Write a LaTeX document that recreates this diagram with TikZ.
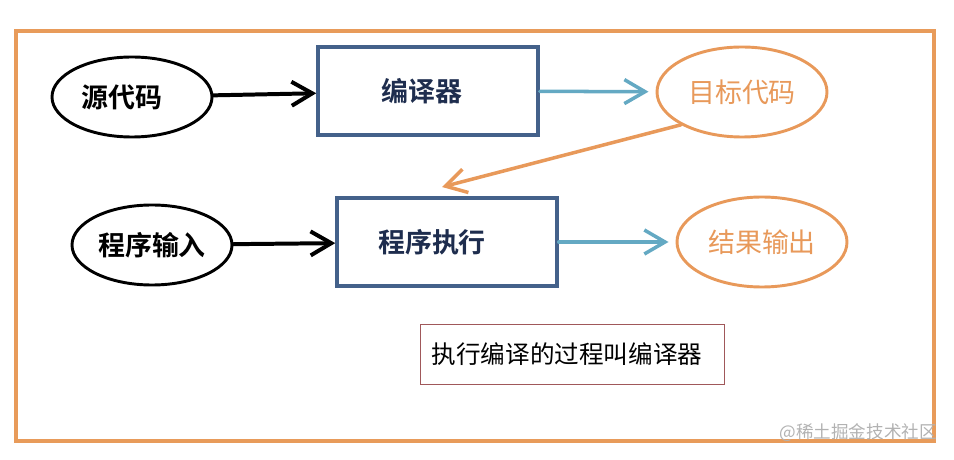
\documentclass[tikz,border=0pt]{standalone}
\usepackage{fontspec}
\setmainfont{Noto Sans CJK SC}[BoldFont={Noto Sans CJK SC Bold}]
\usepackage{tikz}
\usetikzlibrary{arrows.meta,shapes.geometric}
\definecolor{frameorg}{HTML}{E89B5A}
\definecolor{ovalorg}{HTML}{E8995A}
\definecolor{boxblue}{HTML}{44618A}
\definecolor{navy}{HTML}{1E2D4E}
\definecolor{flowblue}{HTML}{64A9C3}
\definecolor{noterd}{HTML}{A0585A}
\tikzset{
  srcoval/.style={ellipse,draw=black,line width=2.5pt,fill=white,text=black,
    font=\bfseries\fontsize{23}{27}\selectfont,
    minimum width=4.8cm,minimum height=2.4cm,inner sep=0pt},
  outoval/.style={ellipse,draw=ovalorg,line width=2.5pt,fill=white,text=ovalorg,
    font=\fontsize{23}{27}\selectfont,
    minimum width=5.1cm,minimum height=2.7cm,inner sep=0pt},
  procbox/.style={rectangle,draw=boxblue,line width=3pt,fill=white,text=navy,
    font=\bfseries\fontsize{23}{27}\selectfont,
    minimum width=6.6cm,minimum height=2.64cm,inner sep=0pt},
  notebox/.style={rectangle,draw=noterd,line width=0.7pt,text=black,
    font=\fontsize{21}{25}\selectfont,
    minimum width=9.12cm,minimum height=1.8cm,inner sep=0pt},
  blkarr/.style={-{Straight Barb[length=0.62cm,width=0.72cm]},line width=3.4pt,
    line cap=round,color=black},
  bluarr/.style={-{Straight Barb[length=0.62cm,width=0.72cm]},line width=3pt,
    line cap=round,color=flowblue},
  orgarr/.style={-{Straight Barb[length=0.62cm,width=0.72cm]},line width=3pt,
    line cap=round,color=ovalorg},
}
\begin{document}
\begin{tikzpicture}[x=0.03cm, y=-0.03cm]
  \useasboundingbox (0,0) rectangle (954,460);
  \draw[frameorg, line width=3.4pt] (16,31) rectangle (934,441);

  \node[srcoval] (src) at (132,97) {源代码\kern0.6cm};
  \node[procbox] (comp) at (428,91) {编译器\kern0.36cm};
  \node[outoval] (tgt) at (742,92) {目标代码};

  \node[srcoval] (inp) at (152,245) {程序输入};
  \node[procbox] (exec) at (447,242) {程序执行\kern0.9cm};
  \node[outoval] (res) at (762,242) {结果输出};
  \coordinate (execin) at (442,187);

  \node[notebox] (note) at (572,354) {执行编译的过程叫编译器\kern0.3cm};
  \node[anchor=east,text=black!30,font=\fontsize{15}{17}\selectfont,inner sep=0pt] (mark) at (937,433) {@稀土掘金技术社区};

  \draw[blkarr] (src) -- (comp);
  \draw[bluarr,shorten >=6pt] (comp) -- (tgt);
  \draw[orgarr] (tgt.south west) -- (execin);
  \draw[blkarr] (inp) -- (exec);
  \draw[bluarr,shorten >=6pt] (exec) -- (res);
\end{tikzpicture}
\end{document}
